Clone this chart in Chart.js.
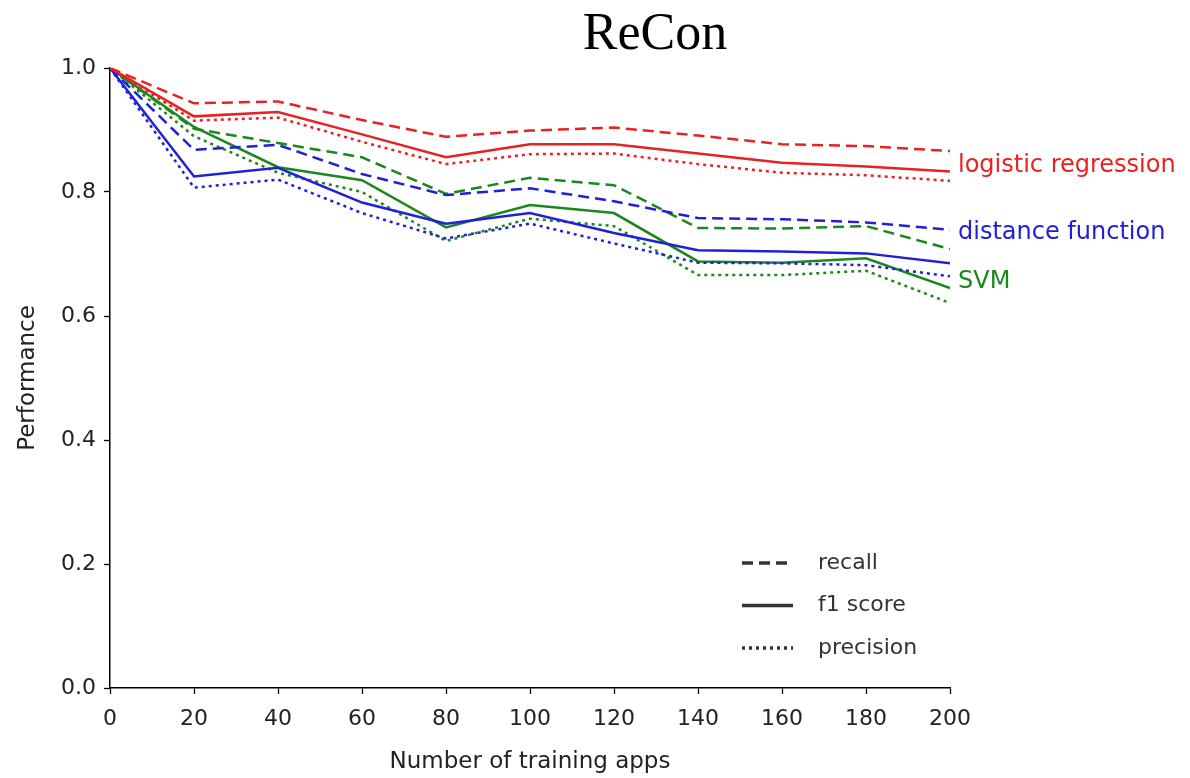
<!DOCTYPE html>
<html>
<head>
<meta charset="utf-8">
<script src="https://cdn.jsdelivr.net/npm/chart.js@4/dist/chart.umd.min.js"></script>
<style>
  html, body { margin: 0; padding: 0; background: #fff; }
  canvas { display: block; }
</style>
</head>
<body>
<canvas id="chart" width="1190" height="778"></canvas>
<script>
// data
const apps = [0, 20, 40, 60, 80, 100, 120, 140, 160, 180, 200];

const lrRecall    = [1.0, 0.943, 0.946, 0.916, 0.889, 0.899, 0.904, 0.891, 0.877, 0.874, 0.866];
const lrF1        = [1.0, 0.922, 0.929, 0.893, 0.856, 0.877, 0.877, 0.862, 0.847, 0.841, 0.833];
const lrPrecision = [1.0, 0.915, 0.920, 0.881, 0.845, 0.861, 0.862, 0.845, 0.831, 0.827, 0.818];

const dfRecall    = [1.0, 0.868, 0.876, 0.829, 0.795, 0.806, 0.785, 0.758, 0.756, 0.751, 0.739];
const dfF1        = [1.0, 0.825, 0.839, 0.783, 0.749, 0.766, 0.734, 0.706, 0.704, 0.701, 0.685];
const dfPrecision = [1.0, 0.807, 0.820, 0.766, 0.725, 0.749, 0.717, 0.686, 0.685, 0.682, 0.664];

const svmRecall    = [1.0, 0.902, 0.879, 0.856, 0.797, 0.823, 0.811, 0.742, 0.741, 0.745, 0.708];
const svmF1        = [1.0, 0.905, 0.840, 0.819, 0.743, 0.779, 0.766, 0.688, 0.686, 0.693, 0.645];
const svmPrecision = [1.0, 0.890, 0.831, 0.800, 0.721, 0.757, 0.745, 0.666, 0.666, 0.673, 0.621];

const systems = ["logistic regression", "distance function", "SVM"];
const metrics = ["recall", "f1 score", "precision"];
const xTicks = [0, 20, 40, 60, 80, 100, 120, 140, 160, 180, 200];
const yTicks = [0.0, 0.2, 0.4, 0.6, 0.8, 1.0];

// style
const colors = ["rgb(232, 34, 34)", "rgb(32, 32, 215)", "rgb(28, 135, 28)"];
const dashes = [[11, 6], [], [3, 4]];
const series = [
  [lrRecall, lrF1, lrPrecision],
  [dfRecall, dfF1, dfPrecision],
  [svmRecall, svmF1, svmPrecision],
];
const labelValues = [0.843, 0.734, 0.655];

const datasets = [];
for (let s = 0; s < systems.length; s++) {
  for (let m = 0; m < metrics.length; m++) {
    datasets.push({
      label: systems[s] + " " + metrics[m],
      data: apps.map((a, i) => ({ x: a, y: series[s][m][i] })),
      borderColor: colors[s],
      borderWidth: 2.5,
      borderDash: dashes[m],
      pointRadius: 0,
      tension: 0,
      fill: false,
    });
  }
}

const tickFont = { family: "DejaVu Sans", size: 22 };
const textColor = "#222";

const extras = {
  id: "extras",
  afterDraw(chart) {
    const ctx = chart.ctx;
    const y = chart.scales.y;
    const area = chart.chartArea;
    ctx.save();

    // title
    ctx.fillStyle = "#000";
    ctx.font = "52px 'Liberation Serif'";
    ctx.textAlign = "center";
    ctx.textBaseline = "alphabetic";
    ctx.fillText("ReCon", 655, 49);

    // system labels
    ctx.font = "24px 'DejaVu Sans'";
    ctx.textAlign = "left";
    ctx.textBaseline = "middle";
    for (let s = 0; s < systems.length; s++) {
      ctx.fillStyle = colors[s];
      ctx.fillText(systems[s], area.right + 8, y.getPixelForValue(labelValues[s]));
    }

    // legend
    const lx = 742, ly = 563, gap = 42.5;
    ctx.font = "22px 'DejaVu Sans'";
    for (let m = 0; m < metrics.length; m++) {
      const yy = ly + m * gap;
      ctx.strokeStyle = "#333";
      ctx.lineWidth = 3.5;
      ctx.setLineDash(dashes[m]);
      ctx.beginPath();
      ctx.moveTo(lx, yy);
      ctx.lineTo(lx + 51, yy);
      ctx.stroke();
      ctx.setLineDash([]);
      ctx.fillStyle = "#333";
      ctx.fillText(metrics[m], lx + 76, yy);
    }
    ctx.restore();
  },
};

new Chart(document.getElementById("chart").getContext("2d"), {
  type: "line",
  data: { datasets: datasets },
  options: {
    responsive: false,
    animation: false,
    layout: { padding: { top: 68, right: 240, bottom: 0, left: 0 } },
    plugins: {
      legend: { display: false },
      title: { display: false },
      tooltip: { enabled: false },
    },
    scales: {
      x: {
        type: "linear",
        min: 0,
        max: 200,
        afterFit: (scale) => { scale.height = 90; },
        afterBuildTicks: (scale) => { scale.ticks = xTicks.map((v) => ({ value: v })); },
        ticks: { font: tickFont, color: textColor, padding: 12, maxRotation: 0 },
        grid: { drawOnChartArea: false, drawTicks: true, tickLength: 6, color: "#000", tickWidth: 1.3 },
        border: { display: true, color: "#000", width: 1.5 },
        title: {
          display: true,
          text: "Number of training apps",
          font: { family: "DejaVu Sans", size: 23 },
          color: textColor,
          padding: { top: 0, bottom: 2 },
        },
      },
      y: {
        min: 0,
        max: 1,
        afterFit: (scale) => { scale.width = 110; },
        afterBuildTicks: (scale) => { scale.ticks = yTicks.map((v) => ({ value: v })); },
        ticks: {
          font: tickFont,
          color: textColor,
          padding: 8,
          callback: (v) => Number(v).toFixed(1),
        },
        grid: { drawOnChartArea: false, drawTicks: true, tickLength: 6, color: "#000", tickWidth: 1.3 },
        border: { display: true, color: "#000", width: 1.5 },
        title: {
          display: true,
          text: "Performance",
          font: { family: "DejaVu Sans", size: 23 },
          color: textColor,
          padding: { top: 14, bottom: 0 },
        },
      },
    },
  },
  plugins: [extras],
});
</script>
</body>
</html>
